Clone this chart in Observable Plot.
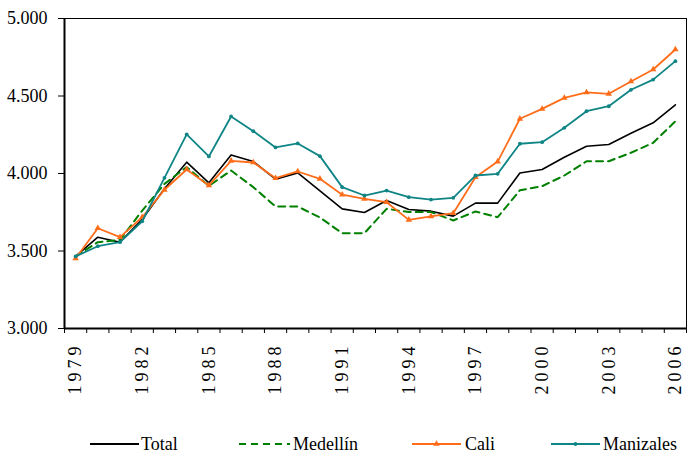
<!DOCTYPE html>
<html><head><meta charset="utf-8">
<script src="https://cdn.jsdelivr.net/npm/d3@7"></script>
<script src="https://cdn.jsdelivr.net/npm/@observablehq/plot@0.6"></script>
<style>
body{margin:0;background:#fff;font-family:'Liberation Serif',serif}
#chart svg{display:block}
#chart svg, #chart svg text{font-family:'Liberation Serif','Times New Roman',serif !important}
</style>
</head><body><div id="chart"></div><script>
const years = [1979,1980,1981,1982,1983,1984,1985,1986,1987,1988,1989,1990,1991,1992,1993,1994,1995,1996,1997,1998,1999,2000,2001,2002,2003,2004,2005,2006];
const total = [3465,3589,3557,3705,3901,4073,3940,4120,4077,3963,4004,3888,3772,3748,3826,3768,3757,3725,3809,3809,4003,4026,4105,4176,4187,4260,4327,4443];
const medellin = [3465,3557,3572,3761,3933,4041,3920,4019,3912,3787,3787,3716,3615,3615,3772,3751,3751,3697,3755,3718,3892,3918,3987,4079,4079,4134,4198,4337];
const cali = [3452,3647,3589,3718,3895,4026,3923,4082,4071,3970,4013,3966,3863,3837,3815,3701,3723,3744,3976,4077,4353,4417,4488,4523,4514,4594,4671,4800];
const manizales = [3465,3531,3557,3692,3972,4252,4110,4368,4273,4168,4194,4112,3912,3858,3890,3847,3832,3843,3987,3998,4192,4202,4295,4402,4434,4540,4606,4725];
const seriesNames = ["Total","Medellín","Cali","Manizales"];
const yTicks = [3000,3500,4000,4500,5000];
const labelYears = [1979,1982,1985,1988,1991,1994,1997,2000,2003,2006];

const colors = {"Total":"#000000","Medellín":"#008000","Cali":"#ff6d1a","Manizales":"#0f8585"};
const boundaries = years.map(y => y - 0.5).concat([years[years.length-1] + 0.5]);
const xv = (d,i) => years[i];
const yv = d => d;
const font = "Liberation Serif";

const chart = Plot.plot({
  width: 688, height: 430,
  marginLeft: 64, marginRight: 2, marginTop: 18, marginBottom: 102,
  style: {fontFamily: font, fontSize: "18px", color: "#000", background: "#fff", overflow: "visible"},
  x: {type: "linear", domain: [boundaries[0], boundaries[boundaries.length-1]]},
  y: {domain: [3000, 5000]},
  marks: [
    Plot.axisY({ticks: yTicks, tickFormat: d => d3.format(",")(d).replace(",", "."), tickSize: 6, tickPadding: 11, label: null, fontSize: 18}),
    Plot.axisX({ticks: boundaries, tickSize: 5, tickFormat: () => "", label: null}),
    Plot.axisX({ticks: labelYears, tickSize: 0, tickRotate: -90, tickPadding: 14, label: null, tickFormat: d => String(d), fontSize: 18}),
    Plot.frame({stroke: "#000", strokeWidth: 1}),
    Plot.ruleX([boundaries[0]], {stroke: "#000", strokeWidth: 2}),
    Plot.ruleY([3000], {stroke: "#000", strokeWidth: 2}),
    Plot.line(total, {x: xv, y: yv, stroke: colors["Total"], strokeWidth: 1.6}),
    Plot.line(medellin, {x: xv, y: yv, stroke: colors["Medellín"], strokeWidth: 2, strokeDasharray: "7,5"}),
    Plot.line(cali, {x: xv, y: yv, stroke: colors["Cali"], strokeWidth: 1.8}),
    Plot.dot(cali, {x: xv, y: yv, symbol: "triangle", r: 2.4, fill: colors["Cali"]}),
    Plot.line(manizales, {x: xv, y: yv, stroke: colors["Manizales"], strokeWidth: 1.8}),
    Plot.dot(manizales, {x: xv, y: yv, symbol: "circle", r: 1.9, fill: colors["Manizales"]})
  ]
});
document.getElementById("chart").appendChild(chart);
d3.select(chart).selectAll('g[aria-label="x-axis tick label"] text').style("letter-spacing", "4px");

const legendItems = [
  {name: seriesNames[0], x1: 90, x2: 139, tx: 141, dash: null, marker: null},
  {name: seriesNames[1], x1: 239, x2: 290, tx: 293, dash: "7,5", marker: null},
  {name: seriesNames[2], x1: 412, x2: 461, tx: 465, dash: null, marker: "tri"},
  {name: seriesNames[3], x1: 551, x2: 600, tx: 603, dash: null, marker: "dot"}
];
const leg = d3.select("#chart").append("svg").attr("width", 688).attr("height", 28)
  .style("font-size", "18px");
for (const it of legendItems) {
  const c = colors[it.name];
  leg.append("line").attr("x1", it.x1).attr("x2", it.x2).attr("y1", 14).attr("y2", 14)
    .attr("stroke", c).attr("stroke-width", it.dash ? 2 : 1.8).attr("stroke-dasharray", it.dash);
  const mx = (it.x1 + it.x2) / 2;
  if (it.marker === "tri") leg.append("path").attr("d", d3.symbol(d3.symbolTriangle, 18)()).attr("transform", `translate(${mx},14)`).attr("fill", c);
  if (it.marker === "dot") leg.append("circle").attr("cx", mx).attr("cy", 14).attr("r", 1.9).attr("fill", c);
  leg.append("text").attr("x", it.tx).attr("y", 20).attr("fill", "#000").text(it.name);
}
</script></body></html>
